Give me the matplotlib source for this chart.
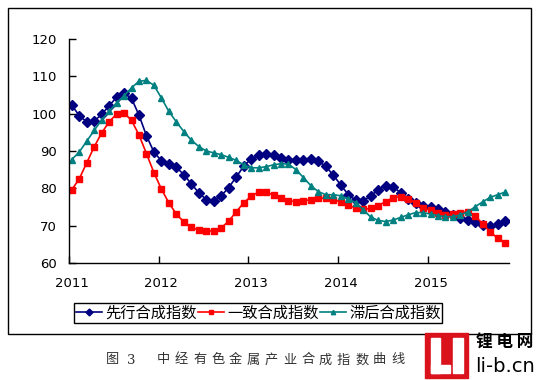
import matplotlib
matplotlib.use("Agg")
import matplotlib.pyplot as plt
from matplotlib.patches import Rectangle

plt.rcParams['font.family'] = ['Noto Sans CJK SC', 'DejaVu Sans']

# monthly index values, Jan 2011 - Nov 2015
leading = [102.3, 99.5, 97.8, 98.0, 99.8, 102.1, 104.4, 105.5, 104.1, 99.6,
           94.1, 89.7, 87.4, 86.5, 85.6, 83.7, 81.2, 78.8, 77.0, 76.6,
           78.0, 80.2, 83.0, 85.9, 87.9, 88.8, 89.3, 89.0, 88.2, 87.7,
           87.6, 87.7, 87.8, 87.2, 85.9, 83.5, 80.9, 78.3, 76.8, 76.6,
           78.0, 79.6, 80.7, 80.4, 78.8, 77.2, 76.1, 75.3, 74.9, 74.4,
           73.6, 72.8, 72.1, 71.5, 70.9, 70.1, 70.0, 70.4, 71.2]
coincident = [79.6, 82.5, 86.8, 91.1, 94.8, 97.8, 99.9, 100.2, 98.2, 94.3,
              89.3, 84.2, 79.8, 76.1, 73.1, 71.0, 69.6, 68.8, 68.6, 68.6,
              69.4, 71.2, 73.7, 76.1, 77.9, 79.0, 79.0, 78.2, 77.4, 76.7,
              76.4, 76.6, 77.0, 77.4, 77.3, 77.0, 76.3, 75.5, 74.7, 74.4,
              74.6, 75.4, 76.4, 77.5, 77.8, 77.2, 76.1, 74.8, 74.1, 73.4,
              72.9, 73.0, 73.5, 73.7, 72.6, 70.4, 68.3, 66.6, 65.3]
lagging = [87.7, 89.7, 92.6, 95.5, 98.3, 100.6, 102.9, 104.8, 106.9, 108.7,
           108.9, 107.6, 104.2, 100.6, 97.8, 95.2, 92.9, 91.2, 90.0, 89.5,
           89.0, 88.3, 87.5, 86.3, 85.5, 85.5, 85.8, 86.3, 86.6, 86.5,
           85.0, 82.9, 80.7, 79.1, 78.3, 78.3, 78.0, 77.2, 76.1, 74.3,
           72.3, 71.4, 71.1, 71.5, 72.2, 72.9, 73.5, 73.5, 73.1, 72.7,
           72.4, 72.4, 72.9, 73.7, 75.1, 76.4, 77.6, 78.3, 79.0]
years = ['2011', '2012', '2013', '2014', '2015']
names = ['先行合成指数', '一致合成指数', '滞后合成指数']
caption = '中经有色金属产业合成指数曲线'

months = list(range(len(leading)))

fig = plt.figure(figsize=(5.4, 3.8), dpi=100)
ax = fig.add_axes([0.1278, 0.3079, 0.8148, 0.5895])

ax.plot(months, leading, color='#000080', marker='D', ms=5, lw=1.2, label=names[0])
ax.plot(months, coincident, color='#ff0000', marker='s', ms=4, lw=1.2, label=names[1])
ax.plot(months, lagging, color='#008080', marker='^', ms=4.5, lw=1.2, label=names[2])

ax.set_xlim(-0.36, 58.5)
ax.set_ylim(60, 120)
ax.set_yticks(range(60, 121, 10))
ax.set_xticks([12 * i for i in range(len(years))])
ax.set_xticklabels(years)
ax.set_xticks([12 * i - 0.36 for i in range(len(years))], minor=True)
ax.tick_params(axis='x', which='major', length=0, pad=10, labelsize=9.5)
ax.tick_params(axis='x', which='minor', direction='in', length=5, width=1)
ax.tick_params(axis='y', direction='in', length=5, width=1, pad=9, labelsize=9.5)
for lab in ax.get_xticklabels() + ax.get_yticklabels():
    lab.set_fontfamily('DejaVu Sans')
ax.spines['top'].set_visible(False)
ax.spines['right'].set_visible(False)
ax.spines['left'].set_linewidth(1)
ax.spines['bottom'].set_linewidth(1)

leg = fig.legend(loc='center', bbox_to_anchor=(0.478, 0.176), ncol=3, fontsize=11,
                 frameon=True, fancybox=False, edgecolor='black', framealpha=1,
                 handlelength=1.7, handletextpad=0.2, columnspacing=0.1,
                 borderpad=0.1, borderaxespad=0, markerscale=0.7)
leg.get_frame().set_linewidth(1)

# outer border
fig.patches.append(Rectangle((8 / 540, 46 / 380), 523 / 540, 326 / 380, transform=fig.transFigure,
                             fill=False, edgecolor='black', lw=1))

# caption
fig.text(106 / 540, 1 - 360 / 380, '图', fontsize=9.5, va='center', ha='left', color='#333333')
fig.text(127 / 540, 1 - 360 / 380, '3', fontsize=9.5, va='center', ha='left', color='#333333',
         family='DejaVu Serif')
for i, ch in enumerate(caption):
    fig.text((157 + 18 * i) / 540, 1 - 360 / 380, ch, fontsize=9.5, va='center', ha='left',
             color='#333333')

# watermark logo
fig.patches.append(Rectangle((425 / 540, 2 / 380), 43 / 540, 45 / 380, transform=fig.transFigure,
                             color='#d9121b', zorder=5))
for x0, y0, w, h in [(431, 7, 9, 35), (431, 7, 19, 8), (453, 7, 10, 35)]:
    fig.patches.append(Rectangle((x0 / 540, y0 / 380), w / 540, h / 380, transform=fig.transFigure,
                                 color='white', zorder=6))
fig.text(505 / 540, 1 - 343 / 380, '锂 电 网', fontsize=12, fontweight='bold', ha='center',
         va='center', zorder=7)
fig.text(505 / 540, 1 - 367 / 380, 'li-b.cn', fontsize=14, ha='center', va='center', zorder=7,
         family='DejaVu Sans')

fig.savefig('out.png', dpi=100)
